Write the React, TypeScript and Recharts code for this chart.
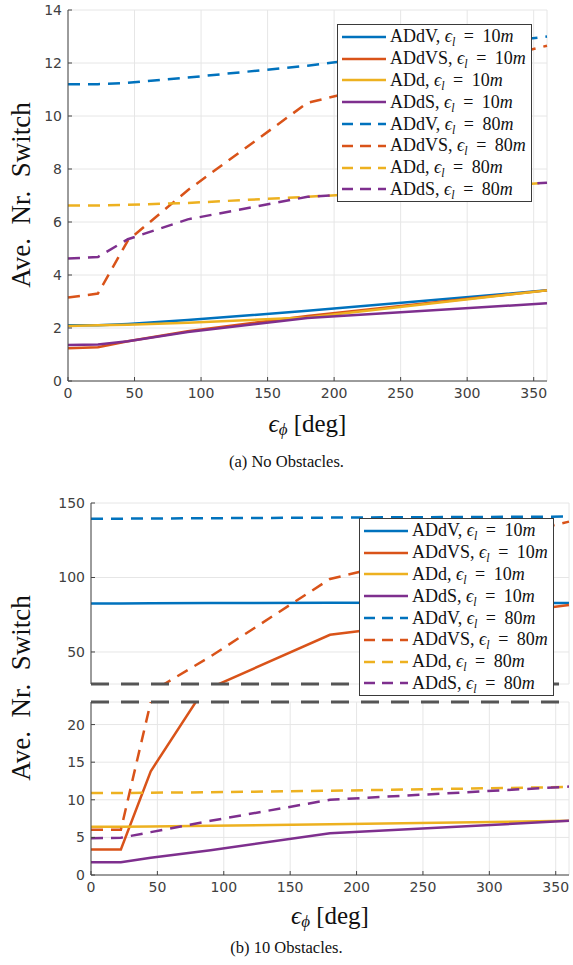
import React from 'react'
import { LineChart, Line, XAxis, YAxis, CartesianGrid, Legend, ReferenceLine } from 'recharts'

// heading error values on the x axis [deg]
const angles = [0, 22.5, 45, 90, 180, 360]
const xTicks = [0, 50, 100, 150, 200, 250, 300, 350]

// (a) no obstacles
const aTicks = [0, 2, 4, 6, 8, 10, 12, 14]
const a_ADdV_10 = [2.1, 2.1, 2.15, 2.3, 2.65, 3.42]
const a_ADdVS_10 = [1.24, 1.27, 1.5, 1.88, 2.45, 3.42]
const a_ADd_10 = [2.08, 2.1, 2.12, 2.2, 2.4, 3.42]
const a_ADdS_10 = [1.36, 1.38, 1.5, 1.85, 2.38, 2.93]
const a_ADdV_80 = [11.2, 11.2, 11.25, 11.45, 11.9, 13.0]
const a_ADdVS_80 = [3.15, 3.3, 5.3, 7.2, 10.5, 12.65]
const a_ADd_80 = [6.62, 6.62, 6.65, 6.72, 6.95, 7.48]
const a_ADdS_80 = [4.62, 4.68, 5.35, 6.1, 6.95, 7.48]

// (b) 10 obstacles, broken y axis
const bTopTicks = [50, 100, 150]
const bLowTicks = [0, 5, 10, 15, 20]
const bTopDomain = [28.5, 150]
const bLowDomain = [0, 23]
const b_ADdV_10 = [82.6, 82.6, 82.7, 82.8, 83.0, 82.8]
const b_ADdVS_10 = [3.4, 3.4, 13.8, 26, 61.5, 81.5]
const b_ADd_10 = [6.4, 6.4, 6.45, 6.55, 6.75, 7.2]
const b_ADdS_10 = [1.7, 1.7, 2.3, 3.3, 5.55, 7.2]
const b_ADdV_80 = [139.5, 139.5, 139.6, 139.8, 140.2, 140.9]
const b_ADdVS_80 = [6, 6, 23, 47, 99, 137.5]
const b_ADd_80 = [10.9, 10.9, 10.95, 11.0, 11.2, 11.7]
const b_ADdS_80 = [4.9, 4.95, 5.7, 7.2, 10.0, 11.75]

const SERIES = [
  { key: 'ADdV_10', name: 'ADdV', el: '10', color: '#0072BD', dashed: false },
  { key: 'ADdVS_10', name: 'ADdVS', el: '10', color: '#D95319', dashed: false },
  { key: 'ADd_10', name: 'ADd', el: '10', color: '#EDB120', dashed: false },
  { key: 'ADdS_10', name: 'ADdS', el: '10', color: '#7E2F8E', dashed: false },
  { key: 'ADdV_80', name: 'ADdV', el: '80', color: '#0072BD', dashed: true },
  { key: 'ADdVS_80', name: 'ADdVS', el: '80', color: '#D95319', dashed: true },
  { key: 'ADd_80', name: 'ADd', el: '80', color: '#EDB120', dashed: true },
  { key: 'ADdS_80', name: 'ADdS', el: '80', color: '#7E2F8E', dashed: true },
]

const buildRows = (cols: Record<string, number[]>) =>
  angles.map((x, i) => {
    const row: Record<string, number> = { x }
    Object.keys(cols).forEach((k) => (row[k] = cols[k][i]))
    return row
  })

const dataA = buildRows({
  ADdV_10: a_ADdV_10, ADdVS_10: a_ADdVS_10, ADd_10: a_ADd_10, ADdS_10: a_ADdS_10,
  ADdV_80: a_ADdV_80, ADdVS_80: a_ADdVS_80, ADd_80: a_ADd_80, ADdS_80: a_ADdS_80,
})
const dataB = buildRows({
  ADdV_10: b_ADdV_10, ADdVS_10: b_ADdVS_10, ADd_10: b_ADd_10, ADdS_10: b_ADdS_10,
  ADdV_80: b_ADdV_80, ADdVS_80: b_ADdVS_80, ADd_80: b_ADd_80, ADdS_80: b_ADdS_80,
})

const SERIF = '"Liberation Serif", "DejaVu Serif", serif'
const SANS = '"DejaVu Sans", sans-serif'
const AXIS = '#444'
const GRID = '#e6e6e6'
const DASH = '12 8'
const tickStyle = { fontSize: 14, fill: '#404040', fontFamily: SANS }

const LegendBox = () => (
  <div
    style={{
      background: '#fff',
      border: '1px solid #3a3a3a',
      fontFamily: SERIF,
      fontSize: 18,
      color: '#111',
      padding: '1px 0',
      boxSizing: 'border-box',
    }}
  >
    {SERIES.map((s) => (
      <div key={s.key} style={{ display: 'flex', alignItems: 'center', height: 21.8, whiteSpace: 'nowrap' }}>
        <svg width={52} height={10} style={{ flex: 'none' }}>
          <line x1={4} x2={48} y1={5} y2={5} stroke={s.color} strokeWidth={2.5}
            strokeDasharray={s.dashed ? '11 7' : undefined} />
        </svg>
        <span>
          {s.name}, <i>ϵ</i>
          <span style={{ fontSize: 12, position: 'relative', top: 4, fontStyle: 'italic' }}>l</span>
          <span style={{ margin: '0 4px' }}> = </span>
          {s.el}<i>m</i>
        </span>
      </div>
    ))}
  </div>
)

const xTitle = (dy: number) => (props: any) => {
  const vb = props.viewBox
  const cx = vb.x + vb.width / 2
  const cy = vb.y + dy
  return (
    <text x={cx} y={cy} textAnchor="middle" dominantBaseline="central"
      style={{ fontFamily: SERIF, fontSize: 25, fill: '#111' }}>
      <tspan fontStyle="italic">ϵ</tspan>
      <tspan fontStyle="italic" fontSize={17} dy={6}>ϕ</tspan>
      <tspan dy={-6}>{' [deg]'}</tspan>
    </text>
  )
}

const yTitle = (cx: number, cy: number) => () => (
  <text x={cx} y={cy} transform={`rotate(-90 ${cx} ${cy})`} textAnchor="middle" dominantBaseline="central"
    style={{ fontFamily: SERIF, fontSize: 27, fill: '#111' }}>
    {'Ave.\u2002Nr.\u2002Switch'}
  </text>
)

const renderLines = () =>
  SERIES.map((s) => (
    <Line key={s.key} dataKey={s.key} type="linear" stroke={s.color} strokeWidth={2.5}
      strokeDasharray={s.dashed ? DASH : undefined} dot={false} activeDot={false}
      isAnimationActive={false} />
  ))

const Caption = ({ top, children }: { top: number; children: React.ReactNode }) => (
  <div style={{ position: 'absolute', top, left: 0, width: 573, textAlign: 'center',
    fontFamily: SERIF, fontSize: 16.5, color: '#111', lineHeight: '20px' }}>
    {children}
  </div>
)

export default function App() {
  return (
    <div style={{ position: 'absolute', left: 0, top: 0, width: 573, height: 965, background: '#fff', overflow: 'hidden' }}>
      {/* (a) No Obstacles */}
      <div style={{ position: 'absolute', left: 0, top: 0 }}>
        <LineChart width={573} height={440} data={dataA} margin={{ top: 10, right: 26, left: 0, bottom: 0 }}>
          <CartesianGrid stroke={GRID} />
          <XAxis dataKey="x" type="number" domain={[0, 360]} ticks={xTicks} height={59}
            tick={tickStyle} tickSize={-4} tickMargin={11} stroke={AXIS} interval={0}
            label={{ value: 'x', content: xTitle(42) }} />
          <YAxis type="number" domain={[0, 14]} ticks={aTicks} width={68} tick={tickStyle}
            tickSize={-4} tickMargin={10} stroke={AXIS} interval={0}
            label={{ value: 'y', content: yTitle(21, 195) }} />
          {renderLines()}
          <Legend verticalAlign="middle" align="center" content={() => <LegendBox />}
            wrapperStyle={{ left: 337, top: 24, width: 195 }} />
        </LineChart>
      </div>
      <Caption top={452}>(a) No Obstacles.</Caption>

      {/* (b) 10 Obstacles - lower panel */}
      <div style={{ position: 'absolute', left: 0, top: 470 }}>
        <LineChart width={573} height={470} data={dataB} margin={{ top: 232, right: 4, left: 0, bottom: 0 }}>
          <CartesianGrid stroke={GRID} />
          <XAxis dataKey="x" type="number" domain={[0, 360]} ticks={xTicks} height={65}
            tick={tickStyle} tickSize={-4} tickMargin={11} stroke={AXIS} interval={0}
            label={{ value: 'x', content: xTitle(40) }} />
          <YAxis type="number" domain={bLowDomain} ticks={bLowTicks} width={91} tick={tickStyle}
            tickSize={-4} tickMargin={10} stroke={AXIS} interval={0} allowDataOverflow
            label={{ value: 'y', content: yTitle(21, 218) }} />
          {renderLines()}
          <ReferenceLine y={bLowDomain[1]} stroke="#555" strokeWidth={3} strokeDasharray="18 12" />
        </LineChart>
      </div>

      {/* (b) 10 Obstacles - upper panel */}
      <div style={{ position: 'absolute', left: 0, top: 470 }}>
        <LineChart width={573} height={470} data={dataB} margin={{ top: 33, right: 4, left: 0, bottom: 256 }}>
          <CartesianGrid stroke={GRID} />
          <XAxis dataKey="x" type="number" domain={[0, 360]} ticks={xTicks} height={0}
            tick={false} tickLine={false} axisLine={false} interval={0} />
          <YAxis type="number" domain={bTopDomain} ticks={bTopTicks} width={91} tick={tickStyle}
            tickSize={-4} tickMargin={10} stroke={AXIS} interval={0} allowDataOverflow />
          {renderLines()}
          <ReferenceLine y={bTopDomain[0]} stroke="#555" strokeWidth={3} strokeDasharray="18 12" />
          <Legend verticalAlign="middle" align="center" content={() => <LegendBox />}
            wrapperStyle={{ left: 359, top: 48, width: 195 }} />
        </LineChart>
      </div>
      <Caption top={938}>(b) 10 Obstacles.</Caption>
    </div>
  )
}
